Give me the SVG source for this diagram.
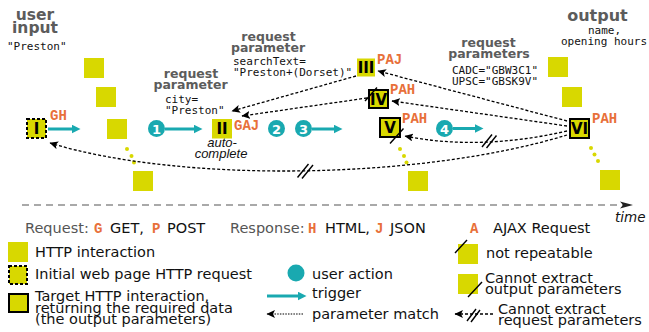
<svg xmlns="http://www.w3.org/2000/svg" width="649" height="332" viewBox="0 0 649 332">
  <defs>
    <style>
      .hdr { font-family: "DejaVu Sans", sans-serif; font-weight: bold; fill: #5c5c5c; text-anchor: middle; }
      .mono { font-family: "DejaVu Sans Mono", monospace; font-size: 11px; fill: #111; }
      .tag { font-family: "Liberation Mono", monospace; font-weight: bold; font-size: 14px; fill: #e8703a; }
      .lbl { font-family: "DejaVu Sans", sans-serif; font-weight: bold; font-size: 15px; fill: #000; text-anchor: middle; }
      .num { font-family: "DejaVu Sans", sans-serif; font-weight: bold; font-size: 13px; fill: #fff; text-anchor: middle; }
      .leg { font-family: "DejaVu Sans", sans-serif; font-size: 14.5px; fill: #111; }
      .gray { fill: #555; }
      .ital { font-family: "Liberation Sans", sans-serif; font-style: italic; font-size: 13px; fill: #111; text-anchor: middle; }
      .box { fill: #d8d800; }
      .init { fill: #d8d800; stroke: #000; stroke-width: 2; stroke-dasharray: 3 2; }
      .target { fill: #d8d800; stroke: #000; stroke-width: 2; }
      .dot { fill: #d8d800; }
      .act { fill: #19a9b0; }
      .trig { fill: none; stroke: #19a9b0; stroke-width: 3; marker-end: url(#tealHead); }
      .match { fill: none; stroke: #000; stroke-width: 1.3; stroke-dasharray: 3 2; marker-end: url(#blackHead); }
      .cut { stroke: #000; stroke-width: 1.4; }
    </style>
    <marker id="tealHead" markerUnits="userSpaceOnUse" markerWidth="9" markerHeight="9" refX="0.5" refY="4.5" orient="auto">
      <path d="M0,0 L9,4.5 L0,9 z" fill="#19a9b0"/>
    </marker>
    <marker id="blackHead" markerUnits="userSpaceOnUse" markerWidth="9" markerHeight="8" refX="8" refY="4" orient="auto">
      <path d="M0,0 L8.5,4 L0,8 L2,4 z" fill="#000"/>
    </marker>
  </defs>

  <!-- column headings -->
  <text class="hdr" x="35" y="20" font-size="15.5">user</text>
  <text class="hdr" x="35" y="33" font-size="15.5">input</text>
  <text class="mono" x="7" y="50">"Preston"</text>

  <text class="hdr" x="191" y="78" font-size="12.5">request</text>
  <text class="hdr" x="190.5" y="89" font-size="12.5">parameter</text>
  <text class="mono" x="165" y="103" font-size="11.5">city=</text>
  <text class="mono" x="165" y="113.5" font-size="11.5">"Preston"</text>

  <text class="hdr" x="268.5" y="41" font-size="12.5">request</text>
  <text class="hdr" x="268" y="52" font-size="12.5">parameter</text>
  <text class="mono" x="233" y="65" font-size="11.3">searchText=</text>
  <text class="mono" x="233" y="76" font-size="11.3">"Preston+(Dorset)"</text>

  <text class="hdr" x="488.5" y="47" font-size="12.5">request</text>
  <text class="hdr" x="489" y="58" font-size="12.5">parameters</text>
  <text class="mono" x="452" y="74">CADC="GBW3C1"</text>
  <text class="mono" x="452" y="85">UPSC="GBSK9V"</text>

  <text class="hdr" x="597.5" y="21" font-size="16">output</text>
  <text class="mono" x="588" y="34">name,</text>
  <text class="mono" x="561" y="45">opening hours</text>

  <!-- plain HTTP interactions -->
  <rect class="box" x="84" y="58" width="20" height="20"/>
  <rect class="box" x="96" y="87" width="20" height="20"/>
  <rect class="box" x="107" y="119" width="20" height="20"/>
  <rect class="box" x="133" y="171" width="20" height="20"/>
  <circle class="dot" cx="127" cy="149" r="2"/>
  <circle class="dot" cx="131.5" cy="156" r="2"/>
  <circle class="dot" cx="134" cy="162.5" r="2"/>

  <rect class="box" x="408" y="171" width="20" height="20"/>
  <circle class="dot" cx="400" cy="149" r="2"/>
  <circle class="dot" cx="404" cy="156" r="2"/>
  <circle class="dot" cx="406.5" cy="162.5" r="2"/>

  <rect class="box" x="548" y="57" width="20" height="20"/>
  <rect class="box" x="562" y="87" width="20" height="20"/>
  <rect class="box" x="600" y="170" width="20" height="20"/>
  <circle class="dot" cx="591" cy="148" r="2"/>
  <circle class="dot" cx="594.5" cy="154.5" r="2"/>
  <circle class="dot" cx="598" cy="161" r="2"/>

  <!-- numbered nodes -->
  <g id="node-I">
    <rect class="init" x="27" y="119" width="19" height="19"/>
    <text class="lbl" x="36.5" y="134">I</text>
    <text class="tag" x="50" y="120">GH</text>
  </g>
  <g id="node-II">
    <rect class="box" x="212" y="119" width="20" height="19.5"/>
    <text class="lbl" x="222" y="134">II</text>
    <text class="tag" x="234" y="130">GAJ</text>
    <text class="ital" x="222" y="147">auto-</text>
    <text class="ital" x="221" y="157.5">complete</text>
  </g>
  <g id="node-III">
    <rect class="box" x="357" y="58.5" width="18" height="18"/>
    <text class="lbl" x="366" y="73">III</text>
    <text class="tag" x="377" y="64">PAJ</text>
  </g>
  <g id="node-IV">
    <rect class="target" x="369" y="90" width="19" height="18"/>
    <text class="lbl" x="378.5" y="104.5">IV</text>
    <line class="cut" x1="365" y1="101" x2="377" y2="87.5"/>
    <text class="tag" x="390" y="94">PAH</text>
  </g>
  <g id="node-V">
    <rect class="target" x="380" y="118" width="20" height="19"/>
    <text class="lbl" x="390" y="133">V</text>
    <line class="cut" x1="390" y1="143.5" x2="403.5" y2="128.5"/>
    <text class="tag" x="402" y="123">PAH</text>
  </g>
  <g id="node-VI">
    <rect class="target" x="570" y="119" width="19" height="19"/>
    <text class="lbl" x="579.5" y="134">VI</text>
    <text class="tag" x="592" y="123">PAH</text>
  </g>

  <!-- user actions and triggers -->
  <g id="actions">
    <line class="trig" x1="48" y1="129" x2="72" y2="129"/>
    <circle class="act" cx="156.5" cy="128.5" r="8.5"/>
    <text class="num" x="156.5" y="133.5">1</text>
    <line class="trig" x1="165" y1="129" x2="194" y2="129"/>
    <circle class="act" cx="276.5" cy="128.5" r="8.5"/>
    <text class="num" x="276.5" y="133.5">2</text>
    <circle class="act" cx="303.5" cy="128.5" r="8.5"/>
    <text class="num" x="303.5" y="133.5">3</text>
    <line class="trig" x1="312" y1="129" x2="334" y2="129"/>
    <circle class="act" cx="444.5" cy="128.5" r="8.5"/>
    <text class="num" x="444.5" y="133.5">4</text>
    <line class="trig" x1="453" y1="128.5" x2="475" y2="128.5"/>
  </g>

  <!-- parameter matches -->
  <g id="connectors">
    <path class="match" d="M356,76 L232,111"/>
    <path class="match" d="M367,98 L242,116"/>
    <path class="match" d="M567,121 L378,71"/>
    <path class="match" d="M567,126 L392,101"/>
    <path class="match" d="M567,131 Q480,151 405,136"/>
    <path class="match" d="M567,135 C420,180 180,183 50,143"/>
    <line class="cut" x1="482" y1="147" x2="492" y2="134.5"/>
    <line class="cut" x1="486.5" y1="148" x2="496.5" y2="135.5"/>
    <line class="cut" x1="297.5" y1="177.5" x2="308.5" y2="164"/>
    <line class="cut" x1="302" y1="178.5" x2="313" y2="165"/>
  </g>

  <!-- time axis -->
  <line x1="22" y1="205" x2="624" y2="205" stroke="#555" stroke-width="1.2" stroke-dasharray="7 5"/>
  <path d="M620,201.5 L633,205 L620,208.5 L623,205 z" fill="#222"/>
  <text x="615" y="222" font-family="DejaVu Sans, sans-serif" font-style="italic" font-size="13.5" fill="#111">time</text>

  <!-- legend -->
  <g id="legend">
    <text class="leg gray" x="25" y="233">Request:</text>
    <text class="tag" x="94" y="233">G</text>
    <text class="leg" x="110" y="233">GET,</text>
    <text class="tag" x="152" y="233">P</text>
    <text class="leg" x="167" y="233">POST</text>
    <text class="leg gray" x="230" y="233">Response:</text>
    <text class="tag" x="308" y="233">H</text>
    <text class="leg" x="325" y="233">HTML,</text>
    <text class="tag" x="375" y="233">J</text>
    <text class="leg" x="390" y="233">JSON</text>
    <text class="tag" x="470" y="233">A</text>
    <text class="leg" x="493" y="233">AJAX Request</text>

    <rect class="box" x="8" y="242" width="20" height="20"/>
    <text class="leg" x="35" y="257">HTTP interaction</text>
    <rect class="init" x="9" y="266" width="18" height="18"/>
    <text class="leg" x="35" y="279">Initial web page HTTP request</text>
    <rect class="target" x="9" y="294" width="19" height="18"/>
    <text class="leg" x="35" y="301">Target HTTP interaction,</text>
    <text class="leg" x="35" y="312.5">returning the required data</text>
    <text class="leg" x="35" y="324">(the output parameters)</text>

    <circle class="act" cx="296" cy="273" r="8.5"/>
    <text class="leg" x="312" y="279">user action</text>
    <line class="trig" x1="267" y1="296" x2="298" y2="296"/>
    <text class="leg" x="312" y="298">trigger</text>
    <path d="M303,314 L267,314" fill="none" stroke="#000" stroke-width="1.2" stroke-dasharray="1.5 1.2" marker-end="url(#blackHead)"/>
    <text class="leg" x="312" y="319">parameter match</text>

    <rect class="box" x="458" y="244" width="20" height="20"/>
    <line class="cut" x1="455" y1="253" x2="467" y2="240"/>
    <text class="leg" x="486" y="258">not repeatable</text>
    <rect class="box" x="458" y="274" width="20" height="20"/>
    <line class="cut" x1="468" y1="297" x2="482" y2="282"/>
    <text class="leg" x="485" y="283">Cannot extract</text>
    <text class="leg" x="485" y="294">output parameters</text>
    <path class="match" d="M493,314 L455,314" stroke-dasharray="2 1.5"/>
    <line class="cut" x1="467" y1="321" x2="476" y2="309"/>
    <line class="cut" x1="471" y1="322" x2="480" y2="310"/>
    <text class="leg" x="498" y="314">Cannot extract</text>
    <text class="leg" x="498" y="325">request parameters</text>
  </g>
</svg>
